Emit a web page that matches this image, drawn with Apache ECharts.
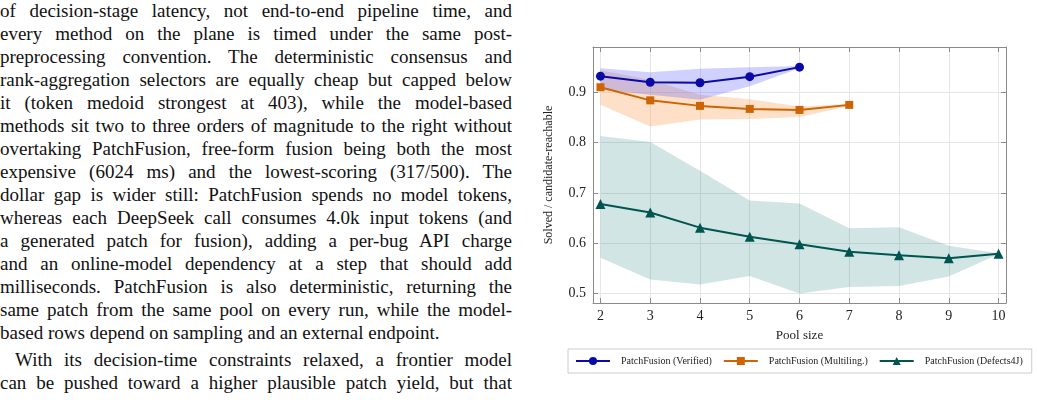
<!DOCTYPE html>
<html>
<head>
<meta charset="utf-8">
<script src="https://cdn.jsdelivr.net/npm/echarts@6/dist/echarts.min.js"></script>
<style>
  body { margin: 0; width: 1038px; height: 400px; overflow: hidden; background: #fff; font-family: "Liberation Serif", serif; }
  #text { position: absolute; left: 0; top: 0; width: 512px; height: 400px; }
  .ln { position: absolute; left: 0; width: 512px; height: 23px; font-size: 19px; line-height: 23px; color: #111;
        text-align: justify; text-align-last: justify; overflow: hidden; }
  .ln.last { text-align-last: left; }
  #chart { position: absolute; left: 520px; top: 0; width: 518px; height: 400px; }
</style>
</head>
<body>
<div id="text"></div>
<div id="chart"></div>
<script>
// pool sizes on the x axis
const poolSizes = [2, 3, 4, 5, 6, 7, 8, 9, 10];
const yTicks = [0.5, 0.6, 0.7, 0.8, 0.9];

// PatchFusion (Verified), pool 2..6
const verifiedMean = [0.932, 0.920, 0.919, 0.931, 0.950];
const verifiedLow = [0.905, 0.895, 0.885, 0.912, 0.948];
const verifiedHigh = [0.948, 0.940, 0.947, 0.950, 0.952];

// PatchFusion (Multiling.), pool 2..7
const multiMean = [0.910, 0.884, 0.873, 0.867, 0.865, 0.875];
const multiLow = [0.875, 0.832, 0.846, 0.847, 0.851, 0.873];
const multiHigh = [0.944, 0.925, 0.895, 0.886, 0.872, 0.877];

// PatchFusion (Defects4J), pool 2..10
const d4jMean = [0.678, 0.661, 0.631, 0.613, 0.598, 0.583, 0.576, 0.570, 0.579];
const d4jLow = [0.571, 0.528, 0.518, 0.535, 0.500, 0.513, 0.515, 0.534, 0.578];
const d4jHigh = [0.813, 0.801, 0.744, 0.685, 0.679, 0.630, 0.632, 0.595, 0.580];

const bodyLines = [
  "of decision-stage latency, not end-to-end pipeline time, and",
  "every method on the plane is timed under the same post-",
  "preprocessing convention. The deterministic consensus and",
  "rank-aggregation selectors are equally cheap but capped below",
  "it (token medoid strongest at 403), while the model-based",
  "methods sit two to three orders of magnitude to the right without",
  "overtaking PatchFusion, free-form fusion being both the most",
  "expensive (6024 ms) and the lowest-scoring (317/500). The",
  "dollar gap is wider still: PatchFusion spends no model tokens,",
  "whereas each DeepSeek call consumes 4.0k input tokens (and",
  "a generated patch for fusion), adding a per-bug API charge",
  "and an online-model dependency at a step that should add",
  "milliseconds. PatchFusion is also deterministic, returning the",
  "same patch from the same pool on every run, while the model-",
  "based rows depend on sampling and an external endpoint.",
  "With its decision-time constraints relaxed, a frontier model",
  "can be pushed toward a higher plausible patch yield, but that"
];

const textBox = document.getElementById("text");
bodyLines.forEach((s, i) => {
  const d = document.createElement("div");
  d.className = "ln" + (i === 14 ? " last" : "");
  let top = i * 23 - 1;
  if (i >= 15) top += 4;
  d.style.top = top + "px";
  if (i === 15) {
    d.style.left = "15px";
    d.style.width = "497px";
  }
  d.textContent = s;
  textBox.appendChild(d);
});

const pairs = (vals) => vals.map((v, i) => [poolSizes[i], v]);

// shaded min/max band, drawn as one polygon through the axis scales
function band(name, lo, hi, color) {
  return {
    name: name,
    type: "custom",
    silent: true,
    z: 1,
    data: lo.map((v, i) => [poolSizes[i], v, hi[i]]),
    encode: { x: 0, y: [1, 2] },
    renderItem: (params, api) => {
      if (params.dataIndex !== 0) return null;
      const pts = [];
      for (let i = 0; i < hi.length; i++) pts.push(api.coord([poolSizes[i], hi[i]]));
      for (let i = lo.length - 1; i >= 0; i--) pts.push(api.coord([poolSizes[i], lo[i]]));
      return { type: "polygon", shape: { points: pts }, style: { fill: color } };
    },
  };
}

const fontFam = "Liberation Serif";
const frameColor = "#8a8a8a";

const chart = echarts.init(document.getElementById("chart"));
chart.setOption({
  animation: false,
  grid: { left: 73, right: 32, top: 47, bottom: 97 },
  legend: {
    data: ["PatchFusion (Verified)", "PatchFusion (Multiling.)", "PatchFusion (Defects4J)"],
    left: 48,
    top: 349,
    itemWidth: 34,
    itemHeight: 10,
    itemGap: 11,
    padding: [7, 9, 7, 7],
    borderColor: "#cccccc",
    borderWidth: 1,
    textStyle: { fontFamily: fontFam, fontSize: 10, color: "#222", padding: [0, 0, 0, 6] },
  },
  xAxis: [
    {
      type: "value",
      min: 1.85,
      max: 10.15,
      name: "Pool size",
      nameLocation: "middle",
      nameGap: 26,
      nameTextStyle: { fontFamily: fontFam, fontSize: 13, color: "#222" },
      axisLine: { lineStyle: { color: frameColor } },
      axisTick: { inside: true, length: 5, customValues: poolSizes, lineStyle: { color: frameColor } },
      axisLabel: { customValues: poolSizes, margin: 6, fontFamily: fontFam, fontSize: 14, color: "#222" },
      splitLine: { show: true, lineStyle: { color: "#e6e6e6" } },
    },
    {
      type: "value",
      position: "top",
      min: 1.85,
      max: 10.15,
      axisLine: { lineStyle: { color: frameColor } },
      axisTick: { inside: true, length: 5, customValues: poolSizes, lineStyle: { color: frameColor } },
      axisLabel: { show: false },
      splitLine: { show: false },
    },
  ],
  yAxis: [
    {
      type: "value",
      min: 0.4813,
      max: 0.99,
      name: "Solved / candidate-reachable",
      nameLocation: "middle",
      nameRotate: 90,
      nameGap: 38,
      nameTextStyle: { fontFamily: fontFam, fontSize: 12, color: "#222" },
      axisLine: { show: true, lineStyle: { color: frameColor } },
      axisTick: { show: true, inside: true, length: 5, customValues: yTicks, lineStyle: { color: frameColor } },
      axisLabel: {
        customValues: yTicks,
        margin: 7,
        fontFamily: fontFam,
        fontSize: 14,
        color: "#222",
        formatter: (v) => v.toFixed(1),
      },
      splitLine: { show: true, lineStyle: { color: "#e6e6e6" } },
    },
    {
      type: "value",
      position: "right",
      min: 0.4813,
      max: 0.99,
      axisLine: { show: true, lineStyle: { color: frameColor } },
      axisTick: { show: true, inside: true, length: 5, customValues: yTicks, lineStyle: { color: frameColor } },
      axisLabel: { show: false },
      splitLine: { show: false },
    },
  ],
  series: [
    band("d4j band", d4jLow, d4jHigh, "rgba(0,110,110,0.18)"),
    band("multi band", multiLow, multiHigh, "rgba(250,160,80,0.32)"),
    band("verified band", verifiedLow, verifiedHigh, "rgba(90,90,255,0.28)"),
    {
      name: "PatchFusion (Verified)",
      type: "line",
      data: pairs(verifiedMean),
      symbol: "circle",
      symbolSize: 9,
      lineStyle: { width: 2, color: "#0a0aa6" },
      itemStyle: { color: "#0a0aa6" },
      z: 5,
    },
    {
      name: "PatchFusion (Multiling.)",
      type: "line",
      data: pairs(multiMean),
      symbol: "rect",
      symbolSize: 8,
      lineStyle: { width: 2, color: "#cf6404" },
      itemStyle: { color: "#cf6404" },
      z: 5,
    },
    {
      name: "PatchFusion (Defects4J)",
      type: "line",
      data: pairs(d4jMean),
      symbol: "triangle",
      symbolSize: 10,
      lineStyle: { width: 2, color: "#005550" },
      itemStyle: { color: "#005550" },
      z: 5,
    },
  ],
});
</script>
</body>
</html>
